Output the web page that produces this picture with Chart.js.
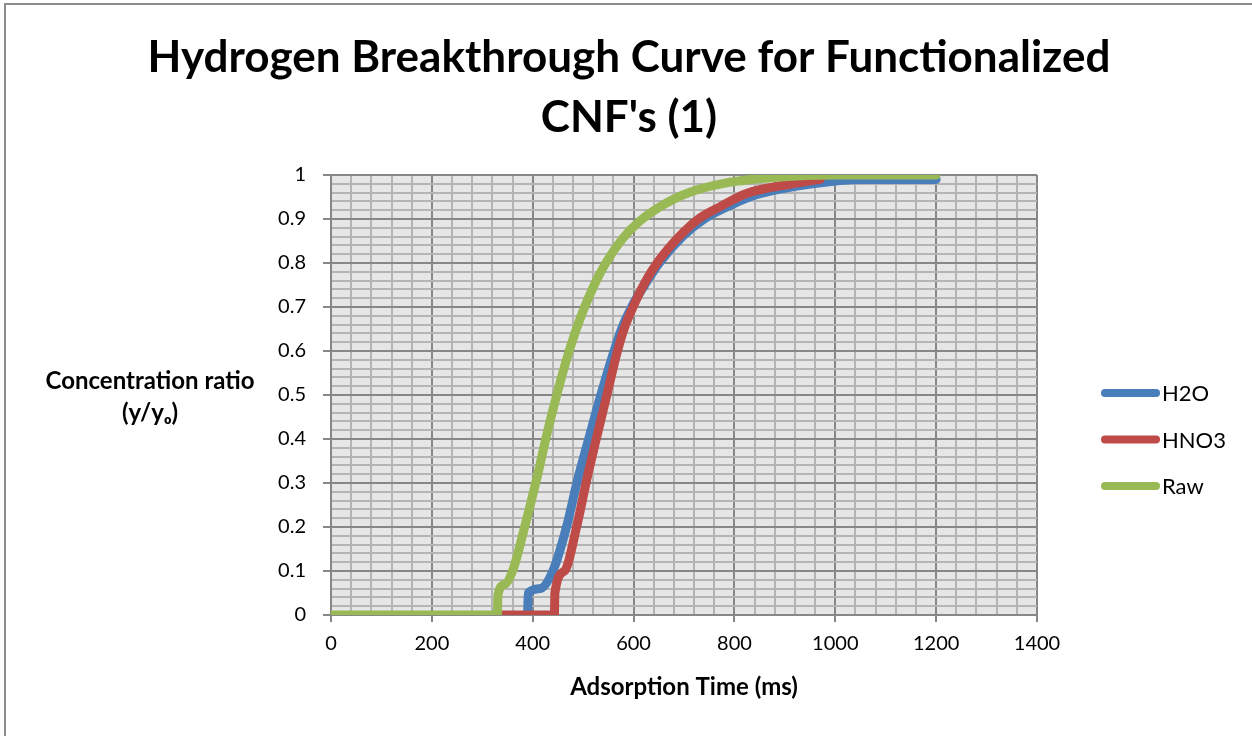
<!DOCTYPE html>
<html>
<head>
<meta charset="utf-8">
<title>Hydrogen Breakthrough Curve</title>
<script src="https://cdn.jsdelivr.net/npm/chart.js@4.4.1/dist/chart.umd.min.js"></script>
<style>
  html, body { margin: 0; padding: 0; background: #fff; }
  #wrap { width: 1252px; height: 736px; position: relative; }
</style>
</head>
<body>
<div id="wrap"><canvas id="breakthroughChart"></canvas></div>
<script>
// Adsorption time (ms) vs concentration ratio y/yo for each CNF sample
const h2oTime  = [390, 391, 414, 440, 467, 489, 511, 535, 560, 576, 596, 622, 651, 697, 740, 790, 843, 955, 1050, 1200];
const h2oRatio = [0, 0.05, 0.06, 0.10, 0.20, 0.307, 0.40, 0.50, 0.595, 0.65, 0.70, 0.75, 0.80, 0.86, 0.90, 0.93, 0.955, 0.98, 0.99, 0.99];

const hno3Time  = [340, 443, 444, 463, 487, 507, 526, 547, 567, 581, 599, 622, 651, 697, 731, 770, 824, 915, 970];
const hno3Ratio = [0, 0, 0.05, 0.10, 0.20, 0.307, 0.40, 0.50, 0.595, 0.65, 0.70, 0.755, 0.807, 0.868, 0.902, 0.927, 0.958, 0.98, 0.99];

const rawTime  = [0, 330, 331, 345, 360, 384, 408, 430, 450, 467, 485, 503, 522, 545, 578, 612, 651, 705, 784, 883, 1000, 1200];
const rawRatio = [0, 0, 0.045, 0.07, 0.10, 0.20, 0.31, 0.42, 0.51, 0.58, 0.645, 0.70, 0.75, 0.80, 0.855, 0.895, 0.927, 0.958, 0.982, 0.995, 1.0, 1.0];

const seriesNames  = ["H2O", "HNO3", "Raw"];
const seriesColors = ["#4a7ebb", "#be4b48", "#98b954"];

const titleLines = ["Hydrogen Breakthrough Curve for Functionalized", "CNF's (1)"];
const xAxisTitle = "Adsorption Time (ms)";
const yAxisTitle = ["Concentration ratio", "(y/y\u2092)"];

const FONT = "Lato, Carlito, 'Open Sans', sans-serif";
const MAJOR_GRID = "#878787";
const MINOR_GRID = "#b4b4b4";

function toPoints(times, ratios) {
  return times.map((t, i) => ({ x: t, y: ratios[i] }));
}

// gray plot background behind the grid
const plotBackground = {
  id: "plotBackground",
  beforeDraw(chart) {
    const { ctx, chartArea: a } = chart;
    ctx.save();
    ctx.fillStyle = "#e6e6e6";
    ctx.fillRect(a.left, a.top, a.right - a.left, a.bottom - a.top);
    ctx.restore();
  },
};

// outer frame, title, y title written horizontally, and legend on the right
const decorations = {
  id: "decorations",
  afterDraw(chart) {
    const ctx = chart.ctx;
    ctx.save();
    ctx.strokeStyle = "#8c8c8c";
    ctx.lineWidth = 2;
    ctx.beginPath();
    ctx.moveTo(5, 736);
    ctx.lineTo(5, 4);
    ctx.lineTo(1252, 4);
    ctx.stroke();

    ctx.fillStyle = "#000";
    ctx.textAlign = "center";
    ctx.textBaseline = "middle";
    ctx.font = "bold 44px " + FONT;
    ctx.fillText(titleLines[0], 629, 58);
    ctx.fillText(titleLines[1], 629, 118);

    ctx.font = "bold 24px " + FONT;
    ctx.fillText(yAxisTitle[0], 150, 381);
    ctx.fillText(yAxisTitle[1], 150, 413);

    ctx.font = "22px " + FONT;
    ctx.textAlign = "left";
    ctx.lineCap = "round";
    ctx.lineWidth = 8;
    chart.data.datasets.forEach((ds, i) => {
      const y = 393 + i * 46.5;
      ctx.strokeStyle = ds.borderColor;
      ctx.beginPath();
      ctx.moveTo(1105, y);
      ctx.lineTo(1156, y);
      ctx.stroke();
      ctx.fillText(ds.label, 1162, y + 1);
    });
    ctx.restore();
  },
};

const isMajorX = (v) => Math.round(v) % 200 === 0;
const isMajorY = (v) => Math.round(v * 50) % 5 === 0;

const ctx = document.getElementById("breakthroughChart").getContext("2d");
new Chart(ctx, {
  type: "line",
  data: {
    datasets: [
      { label: seriesNames[0], data: toPoints(h2oTime, h2oRatio), borderColor: seriesColors[0], order: 3 },
      { label: seriesNames[1], data: toPoints(hno3Time, hno3Ratio), borderColor: seriesColors[1], order: 2 },
      { label: seriesNames[2], data: toPoints(rawTime, rawRatio), borderColor: seriesColors[2], order: 1 },
    ],
  },
  options: {
    responsive: true,
    maintainAspectRatio: false,
    animation: false,
    layout: { padding: { left: 0, right: 215, top: 175, bottom: 32 } },
    elements: {
      line: { borderWidth: 9, cubicInterpolationMode: "monotone", borderCapStyle: "round", borderJoinStyle: "round", fill: false },
      point: { radius: 0, hoverRadius: 0 },
    },
    plugins: {
      legend: { display: false },
      tooltip: { enabled: false },
      title: { display: false },
    },
    scales: {
      x: {
        type: "linear",
        min: 0,
        max: 1400,
        afterFit: (scale) => { scale.height = 89; },
        border: { color: MAJOR_GRID, width: 2 },
        grid: {
          color: (c) => (isMajorX(c.tick.value) ? MAJOR_GRID : MINOR_GRID),
          tickColor: (c) => (isMajorX(c.tick.value) ? MAJOR_GRID : "rgba(0,0,0,0)"),
          lineWidth: 2,
          tickLength: 7,
        },
        ticks: {
          stepSize: 40,
          autoSkip: false,
          maxRotation: 0,
          padding: 10,
          color: "#000",
          font: { family: FONT, size: 20 },
          callback: (v) => (isMajorX(v) ? String(Math.round(v)) : ""),
        },
        title: {
          display: true,
          text: xAxisTitle,
          color: "#000",
          font: { family: FONT, size: 24, weight: "bold" },
          padding: { top: 0, bottom: 2 },
        },
      },
      y: {
        min: 0,
        max: 1,
        afterFit: (scale) => { scale.width = 331; },
        border: { color: MAJOR_GRID, width: 2 },
        grid: {
          color: (c) => (isMajorY(c.tick.value) ? MAJOR_GRID : MINOR_GRID),
          tickColor: (c) => (isMajorY(c.tick.value) ? MAJOR_GRID : "rgba(0,0,0,0)"),
          lineWidth: 2,
          tickLength: 8,
        },
        ticks: {
          stepSize: 0.02,
          autoSkip: false,
          padding: 17,
          color: "#000",
          font: { family: FONT, size: 20 },
          callback: (v) => (isMajorY(v) ? String(Math.round(v * 10) / 10) : ""),
        },
      },
    },
  },
  plugins: [plotBackground, decorations],
});
</script>
</body>
</html>
